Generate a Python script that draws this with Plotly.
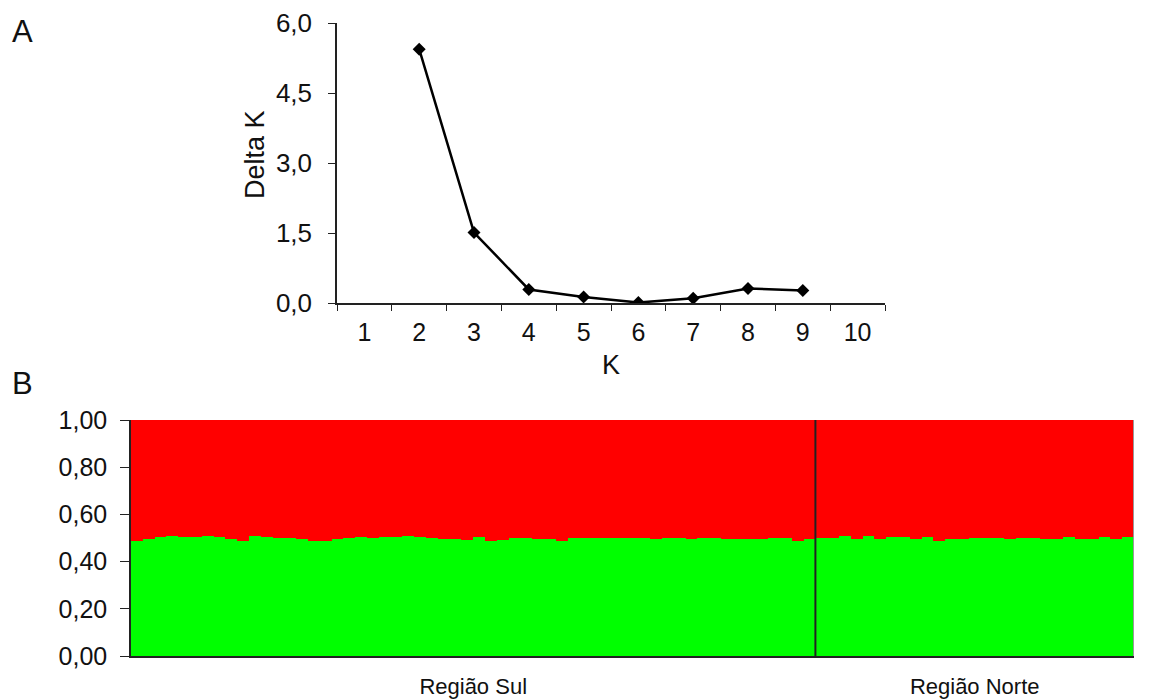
import plotly.graph_objects as go

# ---- Panel A data ----
k_labels = ["1", "2", "3", "4", "5", "6", "7", "8", "9", "10"]
delta_k = [None, 5.44, 1.51, 0.29, 0.13, 0.01, 0.10, 0.31, 0.27, None]

# ---- Panel B data ----
regions = ["Região Sul", "Região Norte"]
sul_green = [0.489, 0.494, 0.503, 0.508, 0.503, 0.503, 0.508, 0.503, 0.494, 0.489,
             0.508, 0.503, 0.499, 0.499, 0.494, 0.489, 0.489, 0.494, 0.499, 0.503,
             0.499, 0.503, 0.503, 0.508, 0.503, 0.499, 0.494, 0.494, 0.492, 0.503,
             0.489, 0.492, 0.499, 0.499, 0.494, 0.494, 0.489, 0.499, 0.499, 0.499,
             0.499, 0.499, 0.499, 0.499, 0.494, 0.499, 0.499, 0.494, 0.499, 0.499,
             0.494, 0.494, 0.494, 0.494, 0.499, 0.499, 0.489, 0.494]
norte_green = [0.499, 0.499, 0.508, 0.494, 0.508, 0.494, 0.503, 0.503, 0.494, 0.503,
               0.489, 0.494, 0.494, 0.499, 0.499, 0.499, 0.494, 0.499, 0.499, 0.494,
               0.494, 0.503, 0.494, 0.494, 0.503, 0.494, 0.503]

green = sul_green + norte_green
red = [1 - g for g in green]
xi = list(range(len(green)))
n_sul = len(sul_green)
n_norte = len(norte_green)
centers = [(n_sul - 1) / 2, n_sul + (n_norte - 1) / 2]

FONT = "Liberation Sans, Arial, sans-serif"
W, H = 1168, 700
OFF = 8  # page body margin


def px(x):
    return (x - OFF) / W


def py(y):
    return 1 - (y - OFF) / H


fig = go.Figure()

fig.add_trace(go.Scatter(
    x=k_labels, y=delta_k, mode="lines+markers",
    line=dict(color="black", width=2.5),
    marker=dict(symbol="diamond", size=10, color="black"),
    connectgaps=False, xaxis="x", yaxis="y", showlegend=False,
))

fig.add_trace(go.Bar(x=xi, y=green, marker=dict(color="#00ff00", line=dict(width=0)),
                     xaxis="x2", yaxis="y2", showlegend=False))
fig.add_trace(go.Bar(x=xi, y=red, marker=dict(color="#ff0000", line=dict(width=0)),
                     xaxis="x2", yaxis="y2", showlegend=False))

fig.update_layout(
    width=W, height=H,
    margin=dict(l=0, r=0, t=0, b=0, autoexpand=False),
    paper_bgcolor="white", plot_bgcolor="white",
    separators=",.",
    barmode="stack", bargap=0,
    font=dict(family=FONT, size=24, color="#111111"),
    xaxis=dict(
        domain=[px(337), px(885)], anchor="y",
        type="category", categoryorder="array", categoryarray=k_labels,
        range=[-0.5, 9.5], tickson="boundaries",
        showline=True, linecolor="#222222", linewidth=1.5,
        ticks="outside", ticklen=6, tickcolor="#222222",
        showgrid=False, zeroline=False, automargin=False,
        ticklabelstandoff=6, tickfont=dict(size=25),
        title=dict(text="K", standoff=10, font=dict(size=27)),
    ),
    yaxis=dict(
        domain=[py(303), py(23)], anchor="x",
        range=[0, 6], tickvals=[0, 1.5, 3.0, 4.5, 6.0], tickformat=".1f",
        showline=True, linecolor="#222222", linewidth=1.5,
        ticks="outside", ticklen=7, tickcolor="#222222",
        showgrid=False, zeroline=False, automargin=False,
        ticklabelstandoff=11, tickfont=dict(size=26),
    ),
    xaxis2=dict(
        domain=[px(131), px(1134)], anchor="y2",
        range=[-0.5, len(green) - 0.5],
        tickvals=centers, ticktext=regions, ticks="",
        showline=True, linecolor="#222222", linewidth=1.5,
        showgrid=False, zeroline=False, automargin=False,
        ticklabelstandoff=10,
        tickfont=dict(size=22),
    ),
    yaxis2=dict(
        domain=[py(656), py(420)], anchor="x2",
        range=[0, 1], tickvals=[0, 0.2, 0.4, 0.6, 0.8, 1.0], tickformat=".2f",
        showline=True, linecolor="#222222", linewidth=1.5,
        ticks="outside", ticklen=9, tickcolor="#222222",
        showgrid=False, zeroline=False, automargin=False,
        ticklabelstandoff=8, tickfont=dict(size=25),
    ),
)

# separator between regions and right border
fig.add_shape(type="line", xref="x2", yref="y2", x0=n_sul - 0.5, x1=n_sul - 0.5,
              y0=0, y1=1, line=dict(color="#222222", width=2))
fig.add_shape(type="line", xref="x2", yref="y2", x0=len(green) - 0.5, x1=len(green) - 0.5,
              y0=0, y1=1, line=dict(color="#999999", width=2))

fig.add_annotation(text="Delta K", xref="paper", yref="paper", x=px(255), y=py(155),
                   textangle=-90, xanchor="center", yanchor="middle", showarrow=False,
                   font=dict(size=27))
fig.add_annotation(text="A", xref="paper", yref="paper", x=px(10), y=py(32),
                   xanchor="left", yanchor="middle", showarrow=False, font=dict(size=31))
fig.add_annotation(text="B", xref="paper", yref="paper", x=px(10), y=py(383),
                   xanchor="left", yanchor="middle", showarrow=False, font=dict(size=31))

fig.write_html("out.html")
